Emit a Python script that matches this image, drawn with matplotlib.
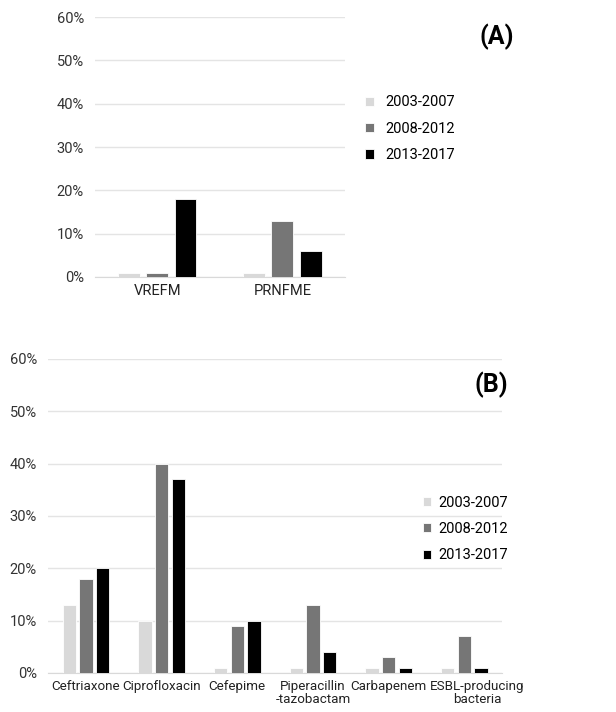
import matplotlib.pyplot as plt
import numpy as np
from matplotlib.ticker import PercentFormatter
from matplotlib.transforms import ScaledTranslation

plt.rcParams['font.family'] = ['Roboto', 'DejaVu Sans']

periods = ['2003-2007', '2008-2012', '2013-2017']
colors = ['#d9d9d9', '#767676', '#000000']

# (A)
cats_a = ['VREFM', 'PRNFME']
vals_a = [
    [1, 1],    # 2003-2007
    [1, 13],   # 2008-2012
    [18, 6],   # 2013-2017
]

# (B)
cats_b = ['Ceftriaxone', 'Ciprofloxacin', 'Cefepime', 'Piperacillin\n-tazobactam',
          'Carbapenem', 'ESBL-producing\nbacteria']
vals_b = [
    [13, 10, 1, 1, 1, 1],
    [18, 40, 9, 13, 3, 7],
    [20, 37, 10, 4, 1, 1],
]

fs = 10.5


def draw(ax, cats, vals, step, width, xfs):
    x = np.arange(len(cats))
    for i, v in enumerate(vals):
        ax.bar(x + (i - 1) * step, np.array(v) / 100, width, color=colors[i],
               edgecolor='white', linewidth=0.6, label=periods[i], zorder=3)
    ax.set_xticks(x)
    ax.set_xticklabels(cats, fontsize=xfs, color='#222222', linespacing=1.05)
    ax.set_xlim(-0.5, len(cats) - 0.5)
    ax.set_ylim(0, 0.6)
    ax.set_yticks(np.arange(0, 0.61, 0.1))
    ax.yaxis.set_major_formatter(PercentFormatter(1.0, decimals=0))
    ax.tick_params(axis='y', length=0, labelsize=fs, labelcolor='#333333', pad=8)
    ax.tick_params(axis='x', length=0, pad=5)
    ax.grid(axis='y', color='#e4e4e4', linewidth=1, zorder=0)
    for s in ['top', 'right', 'left']:
        ax.spines[s].set_visible(False)
    ax.spines['bottom'].set_color('#d9d9d9')


fig = plt.figure(figsize=(6.16, 7.12), dpi=100)
ax1 = fig.add_axes([0.154, 0.611, 0.406, 0.365])
ax2 = fig.add_axes([0.078, 0.055, 0.737, 0.441])

draw(ax1, cats_a, vals_a, 0.225, 0.175, fs)
draw(ax2, cats_b, vals_b, 0.22, 0.176, 9.6)

# last label in (B) sits a bit to the right, as in the original
lab = ax2.get_xticklabels()[-1]
lab.set_transform(lab.get_transform() + ScaledTranslation(0.13, 0, fig.dpi_scale_trans))

leg_kw = dict(loc='upper left', bbox_transform=fig.transFigure, frameon=False,
              fontsize=fs, handlelength=0.6, handleheight=0.6,
              labelspacing=0.85, borderpad=0, borderaxespad=0)
ax1.legend(bbox_to_anchor=(0.593, 0.866), handletextpad=0.8, **leg_kw)
ax2.legend(bbox_to_anchor=(0.686, 0.304), handletextpad=0.5, **leg_kw)

fig.text(0.778, 0.948, '(A)', fontsize=18, fontweight='bold', ha='left', va='center')
fig.text(0.771, 0.459, '(B)', fontsize=18, fontweight='bold', ha='left', va='center')

fig.savefig('out.png', dpi=100, facecolor='white')
